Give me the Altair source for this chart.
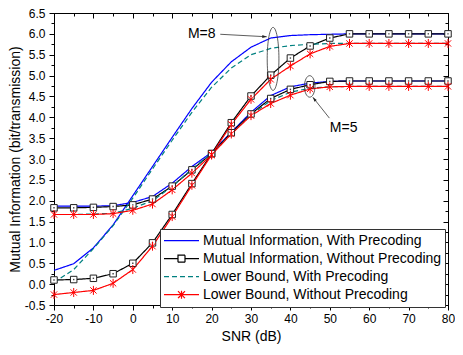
import altair as alt
import pandas as pd

FONT = "Liberation Sans"

SNR = [-20, -15, -10, -5, 0, 5, 10, 15, 20, 25, 30, 35, 40, 45, 50, 55, 60, 65, 70, 75, 80]

SERIES = [
    "Mutual Information, With Precoding",
    "Mutual Information, Without Precoding",
    "Lower Bound, With Precoding",
    "Lower Bound, Without Precoding",
]
COLORS = ["#0000FF", "#000000", "#008080", "#FF0000"]
DASHES = [[1, 0], [1, 0], [5, 3], [1, 0]]

# M = 8 curves
M8_MI_PRE = [0.33, 0.49, 0.87, 1.42, 2.12, 2.82, 3.52, 4.21, 4.84, 5.33, 5.68, 5.90, 5.96, 5.98, 5.99, 6.00, 6.00, 6.00, 6.00, 6.00, 6.00]
M8_MI_NOPRE = [0.10, 0.11, 0.14, 0.25, 0.50, 0.99, 1.67, 2.41, 3.13, 3.87, 4.51, 5.01, 5.42, 5.71, 5.90, 6.00, 6.00, 6.00, 6.00, 6.00, 6.00]
M8_LB_PRE = [0.04, 0.35, 0.85, 1.40, 2.06, 2.76, 3.45, 4.12, 4.72, 5.18, 5.50, 5.65, 5.72, 5.75, 5.77, 5.77, 5.77, 5.77, 5.77, 5.77, 5.77]
M8_LB_NOPRE = [-0.25, -0.20, -0.15, 0.02, 0.35, 0.91, 1.62, 2.37, 3.10, 3.83, 4.43, 4.91, 5.23, 5.52, 5.70, 5.77, 5.77, 5.77, 5.77, 5.77, 5.77]

# M = 5 curves
M5_MI_PRE = [1.87, 1.87, 1.87, 1.88, 1.96, 2.10, 2.42, 2.82, 3.16, 3.64, 4.12, 4.52, 4.73, 4.82, 4.86, 4.87, 4.87, 4.87, 4.87, 4.87, 4.87]
M5_MI_NOPRE = [1.83, 1.83, 1.84, 1.86, 1.90, 2.04, 2.35, 2.74, 3.13, 3.63, 4.08, 4.45, 4.67, 4.78, 4.86, 4.87, 4.87, 4.87, 4.87, 4.87, 4.87]
M5_LB_PRE = [1.67, 1.67, 1.68, 1.70, 1.82, 2.00, 2.34, 2.76, 3.13, 3.60, 4.06, 4.40, 4.60, 4.70, 4.73, 4.74, 4.74, 4.74, 4.74, 4.74, 4.74]
M5_LB_NOPRE = [1.67, 1.67, 1.67, 1.69, 1.77, 1.92, 2.26, 2.66, 3.10, 3.60, 4.04, 4.33, 4.53, 4.68, 4.73, 4.74, 4.74, 4.74, 4.74, 4.74, 4.74]

# axis ticks
X_MAJOR = [-20, -10, 0, 10, 20, 30, 40, 50, 60, 70, 80]
X_ALL = SNR
Y_MAJOR = [-0.5, 0.0, 0.5, 1.0, 1.5, 2.0, 2.5, 3.0, 3.5, 4.0, 4.5, 5.0, 5.5, 6.0, 6.5]
Y_ALL = [-0.5, -0.25, 0.0, 0.25, 0.5, 0.75, 1.0, 1.25, 1.5, 1.75, 2.0, 2.25, 2.5, 2.75, 3.0,
         3.25, 3.5, 3.75, 4.0, 4.25, 4.5, 4.75, 5.0, 5.25, 5.5, 5.75, 6.0, 6.25, 6.5]

# annotations
TXT_LABELS = ["M=8", "M=5"]
TXT_X = [21.0, 50.0]
TXT_Y = [6.0, 3.75]
ARROW_X1 = [22.2, 49.9]
ARROW_Y1 = [5.99, 3.98]
ARROW_X2 = [34.0, 45.7]
ARROW_Y2 = [5.93, 4.48]
ARROW_ANGLE = [3, 232]
ELL_X = [35.6, 44.9]
ELL_Y = [5.40, 4.74]

rows = []
groups = [
    ("8", [M8_MI_PRE, M8_MI_NOPRE, M8_LB_PRE, M8_LB_NOPRE]),
    ("5", [M5_MI_PRE, M5_MI_NOPRE, M5_LB_PRE, M5_LB_NOPRE]),
]
for m, vals_list in groups:
    for s, vals in zip(SERIES, vals_list):
        for x, v in zip(SNR, vals):
            rows.append({"snr": x, "mi": v, "series": s, "M": m})
df = pd.DataFrame(rows)

xs = alt.Scale(domain=[-20, 80], nice=False, zero=False)
ys = alt.Scale(domain=[-0.5, 6.5], nice=False, zero=False)


def X(field="snr", axis=None):
    return alt.X(f"{field}:Q", scale=xs, axis=axis)


def Y(field="mi", axis=None):
    return alt.Y(f"{field}:Q", scale=ys, axis=axis)


x_main_axis = alt.Axis(
    orient="bottom", values=X_ALL, title="SNR (dB)",
    labelExpr="datum.value % 10 === 0 ? ((datum.value < 0 ? '-' : '') + format(abs(datum.value), 'd')) : ''",
    tickSize={"condition": {"test": "datum.value % 10 === 0", "value": 5}, "value": 3},
    labelFlush=False, labelOverlap=False, grid=False, labelPadding=3, titlePadding=5,
)
y_main_axis = alt.Axis(
    orient="left", values=Y_ALL, title="Mutual Information (bit/transmission)",
    labelExpr="abs(datum.value * 2 - round(datum.value * 2)) < 0.001 ? ((datum.value < 0 ? '-' : '') + format(abs(datum.value), '.1f')) : ''",
    tickSize={"condition": {"test": "abs(datum.value * 2 - round(datum.value * 2)) < 0.001", "value": 5}, "value": 3},
    labelFlush=False, labelOverlap=False, grid=False, labelPadding=4, titlePadding=2,
)

base = alt.Chart(df)

# main axes layer (bottom / left)
axis_main = base.transform_filter("false").mark_point(opacity=0).encode(
    x=X(axis=x_main_axis), y=Y(axis=y_main_axis)
)
# inward major ticks top / right
axis_major_in = base.transform_filter("false").mark_point(opacity=0).encode(
    x=X(axis=alt.Axis(orient="top", values=X_MAJOR, labels=False, domain=False, title=None,
                      tickSize=5, offset=-5, grid=False)),
    y=Y(axis=alt.Axis(orient="right", values=Y_MAJOR, labels=False, domain=False, title=None,
                      tickSize=5, offset=-5, grid=False)),
)
axis_minor_in = base.transform_filter("false").mark_point(opacity=0).encode(
    x=X(axis=alt.Axis(orient="top", values=X_ALL, labels=False, domain=False, title=None,
                      tickSize=3, offset=-3, grid=False)),
    y=Y(axis=alt.Axis(orient="right", values=Y_ALL, labels=False, domain=False, title=None,
                      tickSize=3, offset=-3, grid=False)),
)

line_layers = []
for s, c, d in zip(SERIES, COLORS, DASHES):
    line_layers.append(
        base.transform_filter(alt.datum.series == s)
        .mark_line(color=c, strokeDash=d, strokeWidth=1.2)
        .encode(x=X(), y=Y(), detail="M:N")
    )

squares = base.transform_filter(alt.datum.series == SERIES[1]).mark_point(
    shape="square", filled=True, fill="white", stroke="#222222", strokeWidth=1, size=42, opacity=1
).encode(x=X(), y=Y())
square_dots = base.transform_filter(alt.datum.series == SERIES[1]).mark_point(
    shape="square", filled=True, color="#444444", size=2, opacity=1
).encode(x=X(), y=Y())

STAR = "M0,-1L0,1M-0.7,-0.7L0.7,0.7M-0.7,0.7L0.7,-0.7"
stars = base.transform_filter(alt.datum.series == SERIES[3]).mark_point(
    shape=STAR, filled=False, stroke="#FF0000", strokeWidth=1, size=81, opacity=1
).encode(x=X(), y=Y())

LEGEND_SHAPES = [
    "M-1,0L1,0",
    "M-1,0L-0.2,0M0.2,0L1,0M-0.2,-0.2L0.2,-0.2L0.2,0.2L-0.2,0.2Z",
    "M-1,0L1,0",
    "M-1,0L1,0M0,-0.23L0,0.23M-0.2,-0.2L0.2,0.2M-0.2,0.2L0.2,-0.2",
]
LEG = alt.Legend(
    title=None, orient="none", legendX=106, legendY=216,
    symbolSize=1225, symbolStrokeWidth=1.2, labelFont=FONT, labelFontSize=14,
    labelColor="black", fillColor="white", strokeColor="#333333", padding=3,
    labelOffset=3, clipHeight=17.4, rowPadding=0, labelLimit=400,
)
legend_layer = base.transform_filter("false").mark_point(filled=False, strokeWidth=1.2, opacity=1).encode(
    x=X(), y=Y(),
    color=alt.Color("series:N", scale=alt.Scale(domain=SERIES, range=COLORS), legend=LEG),
    shape=alt.Shape("series:N", scale=alt.Scale(domain=SERIES, range=LEGEND_SHAPES), legend=LEG),
    strokeDash=alt.StrokeDash("series:N", scale=alt.Scale(domain=SERIES, range=DASHES), legend=LEG),
)

ann = pd.DataFrame({
    "label": TXT_LABELS, "tx": TXT_X, "ty": TXT_Y,
    "x1": ARROW_X1, "y1": ARROW_Y1, "x2": ARROW_X2, "y2": ARROW_Y2, "ang": ARROW_ANGLE,
    "ex": ELL_X, "ey": ELL_Y,
})
annb = alt.Chart(ann)

txt8 = annb.transform_filter(alt.datum.label == "M=8").mark_text(
    align="right", baseline="middle", font=FONT, fontSize=14, color="black"
).encode(x=X("tx"), y=Y("ty"), text="label:N")
txt5 = annb.transform_filter(alt.datum.label == "M=5").mark_text(
    align="left", baseline="middle", font=FONT, fontSize=14, color="black"
).encode(x=X("tx"), y=Y("ty"), text="label:N")

arrows = annb.mark_rule(color="#333333", strokeWidth=0.8).encode(
    x=X("x1"), y=Y("y1"), x2="x2:Q", y2="y2:Q"
)
ARROW_HEAD = "M0,0L-1,-0.32L-1,0.32Z"
heads = annb.mark_point(shape=ARROW_HEAD, filled=True, color="#222222", size=81, opacity=1).encode(
    x=X("x2"), y=Y("y2"), angle=alt.Angle("ang:Q", scale=None)
)

ELL8 = "M0,-1A0.186,1 0 1,1 0,1A0.186,1 0 1,1 0,-1Z"
ELL5 = "M0,-1A0.49,1 0 1,1 0,1A0.49,1 0 1,1 0,-1Z"
ell8 = annb.transform_filter(alt.datum.label == "M=8").mark_point(
    shape=ELL8, filled=False, color="#333333", strokeWidth=0.8, size=3969, opacity=1
).encode(x=X("ex"), y=Y("ey"))
ell5 = annb.transform_filter(alt.datum.label == "M=5").mark_point(
    shape=ELL5, filled=False, color="#333333", strokeWidth=0.8, size=462, opacity=1
).encode(x=X("ex"), y=Y("ey"))

chart = alt.layer(
    axis_main, axis_major_in, axis_minor_in,
    *line_layers, squares, square_dots, stars, legend_layer,
    ell8, ell5, arrows, heads, txt8, txt5,
).resolve_axis(x="independent", y="independent").properties(
    width=394, height=292,
    padding={"left": 46, "top": 5, "right": 7, "bottom": 42},
    autosize=alt.AutoSizeParams(type="none"),
).configure_view(stroke="black", strokeWidth=1).configure_axis(
    labelFont=FONT, titleFont=FONT, labelFontSize=12, titleFontSize=14,
    titleFontWeight="normal", labelColor="black", titleColor="black",
    tickColor="black", domainColor="black", tickWidth=1, domainWidth=1,
)

chart.save("out.html", embed_options={"renderer": "svg", "actions": False})
